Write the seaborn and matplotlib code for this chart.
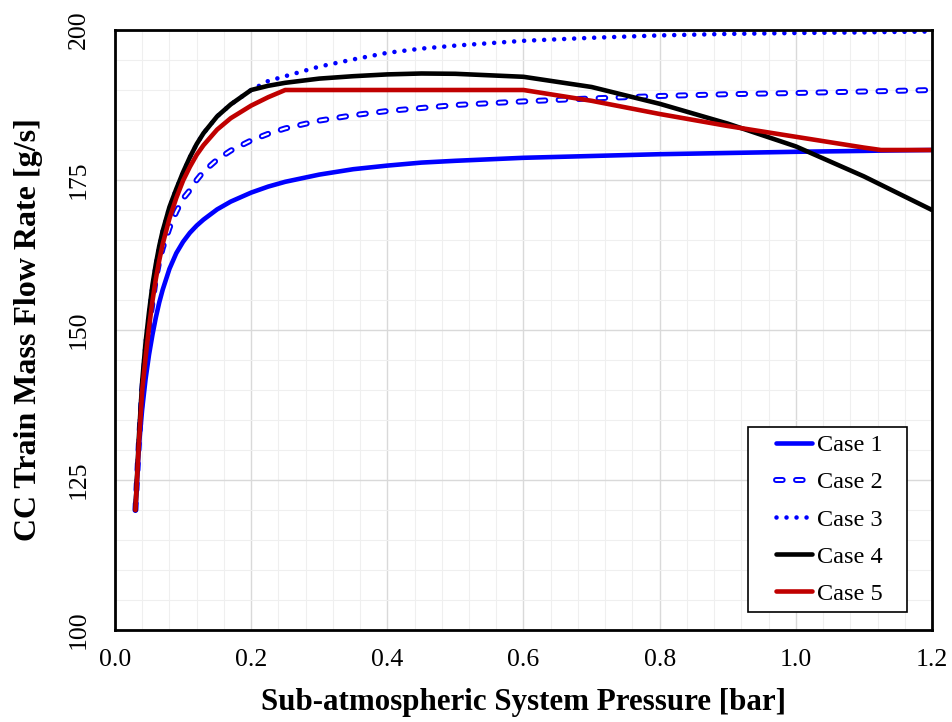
import matplotlib
matplotlib.use("Agg")
import matplotlib.pyplot as plt
import matplotlib.patheffects as pe
from matplotlib.lines import Line2D
from matplotlib.ticker import MultipleLocator, FormatStrFormatter
from matplotlib.legend_handler import HandlerLine2D
import seaborn as sns

# Sub-atmospheric system pressure [bar]
pressure = [0.03, 0.035, 0.04, 0.045, 0.05, 0.055, 0.06, 0.065, 0.07, 0.08,
            0.09, 0.10, 0.11, 0.12, 0.13, 0.15, 0.17, 0.20, 0.225, 0.25,
            0.30, 0.35, 0.40, 0.45, 0.50, 0.60, 0.70, 0.80, 0.90, 1.00,
            1.10, 1.125, 1.20]

# CC train mass flow rate [g/s] for each case
case1 = [120, 130.5, 136.9, 141.9, 145.9, 149.2, 152.1, 154.6, 156.7, 160.2,
         162.8, 164.7, 166.2, 167.4, 168.4, 170.1, 171.4, 172.9, 173.9, 174.7,
         175.9, 176.8, 177.4, 177.9, 178.2, 178.7, 179.0, 179.3, 179.5, 179.7,
         179.85, 179.9, 180]
case2 = [120, 131, 140, 146, 150.5, 154.5, 158.5, 161.4, 163.6, 167.0,
         169.7, 171.9, 173.3, 175.0, 176.4, 178.4, 179.9, 181.6, 182.7, 183.6,
         184.9, 185.8, 186.5, 187.0, 187.5, 188.1, 188.6, 189.0, 189.3, 189.5,
         189.75, 189.8, 190]
case3 = [120, 132, 141.5, 148, 153, 157.5, 161, 164, 166.5, 170.5,
         173.5, 176.3, 178.8, 181, 182.8, 185.6, 187.6, 190, 191.5, 192.3,
         193.9, 195.1, 196.2, 196.9, 197.4, 198.2, 198.7, 199.1, 199.35, 199.5,
         199.6, 199.65, 199.75]
case4 = [120, 132, 141.5, 148, 153, 157.5, 161, 164, 166.5, 170.5,
         173.5, 176.3, 178.8, 181, 182.8, 185.6, 187.6, 190, 190.7, 191.2,
         191.9, 192.3, 192.6, 192.75, 192.7, 192.2, 190.5, 187.7, 184.4, 180.6,
         175.6, 174.2, 170]
case5 = [120, 131, 140, 145.5, 150.5, 154.8, 158.5, 161.6, 164.3, 168.6,
         172, 174.9, 177.2, 179.2, 180.8, 183.4, 185.3, 187.4, 188.8, 190,
         190, 190, 190, 190, 190, 190, 188.2, 186, 184, 182.2,
         180.4, 180, 180]

case_labels = ["Case 1", "Case 2", "Case 3", "Case 4", "Case 5"]
x_ticks = [0.0, 0.2, 0.4, 0.6, 0.8, 1.0, 1.2]
y_ticks = [100, 125, 150, 175, 200]

sns.set_theme(style="white")
plt.rcParams["font.family"] = ["Liberation Serif", "DejaVu Serif"]
plt.rcParams["lines.scale_dashes"] = False

fig = plt.figure(figsize=(9.53, 7.22), dpi=100)
ax = fig.add_axes([115 / 953, 1 - 630 / 722, 817 / 953, 600 / 722])
ax.set_facecolor("white")

BLUE = "#0000FF"
RED = "#C00000"
LW = 3.3
common = dict(ax=ax, legend=False, sort=False, estimator=None)

sns.lineplot(x=pressure, y=case1, color=BLUE, linewidth=LW,
             solid_capstyle="round", solid_joinstyle="round",
             label=case_labels[0], **common)
# hollow dashes: a wide blue stroke under a thin white core
sns.lineplot(x=pressure, y=case2, color="white", linewidth=1.5,
             dashes=(4.8, 9.6), dash_capstyle="round", label=case_labels[1],
             path_effects=[pe.Stroke(linewidth=4.3, foreground=BLUE),
                           pe.Normal()], **common)
sns.lineplot(x=pressure, y=case3, color=BLUE, linewidth=LW,
             dashes=(0.01, 7.2), dash_capstyle="round", label=case_labels[2],
             **common)
sns.lineplot(x=pressure, y=case4, color="black", linewidth=LW,
             solid_capstyle="round", solid_joinstyle="round",
             label=case_labels[3], **common)
sns.lineplot(x=pressure, y=case5, color=RED, linewidth=LW,
             solid_capstyle="round", solid_joinstyle="round",
             label=case_labels[4], **common)

ax.set_xlim(0, 1.2)
ax.set_ylim(100, 200)
ax.set_xticks(x_ticks)
ax.set_yticks(y_ticks)
ax.xaxis.set_major_formatter(FormatStrFormatter("%.1f"))
ax.xaxis.set_minor_locator(MultipleLocator(0.04))
ax.yaxis.set_minor_locator(MultipleLocator(5))
ax.grid(which="major", color="#d9d9d9", linewidth=1.0)
ax.grid(which="minor", color="#efefef", linewidth=0.8)
ax.set_axisbelow(True)
ax.tick_params(which="both", length=0)
ax.tick_params(axis="x", labelsize=18.5, pad=14, colors="black")
ax.tick_params(axis="y", labelsize=18.5, pad=18, colors="black")
plt.setp(ax.get_yticklabels(), rotation=90, va="center")

for side in ax.spines.values():
    side.set_color("black")
    side.set_linewidth(2.0)

ax.set_xlabel("Sub-atmospheric System Pressure [bar]", fontsize=22.3,
              fontweight="bold", color="black")
ax.set_ylabel("CC Train Mass Flow Rate [g/s]", fontsize=23,
              fontweight="bold", color="black")
ax.xaxis.set_label_coords(0.5, -0.0967)
ax.yaxis.set_label_coords(-0.088, 0.5)

leg = ax.legend(loc="lower left", bbox_to_anchor=(0.7748, 0.03, 0.1946, 0.3083),
                mode="expand", borderaxespad=0, borderpad=0.3,
                fontsize=17.5, handlelength=2.33, handletextpad=0.2,
                labelspacing=0.62, fancybox=False, framealpha=1,
                edgecolor="black",
                handler_map={Line2D: HandlerLine2D(xpad=0.85)})
leg.get_frame().set_linewidth(1.2)
for t in leg.get_texts():
    t.set_color("black")

fig.savefig("out.png", dpi=100, facecolor="white")
